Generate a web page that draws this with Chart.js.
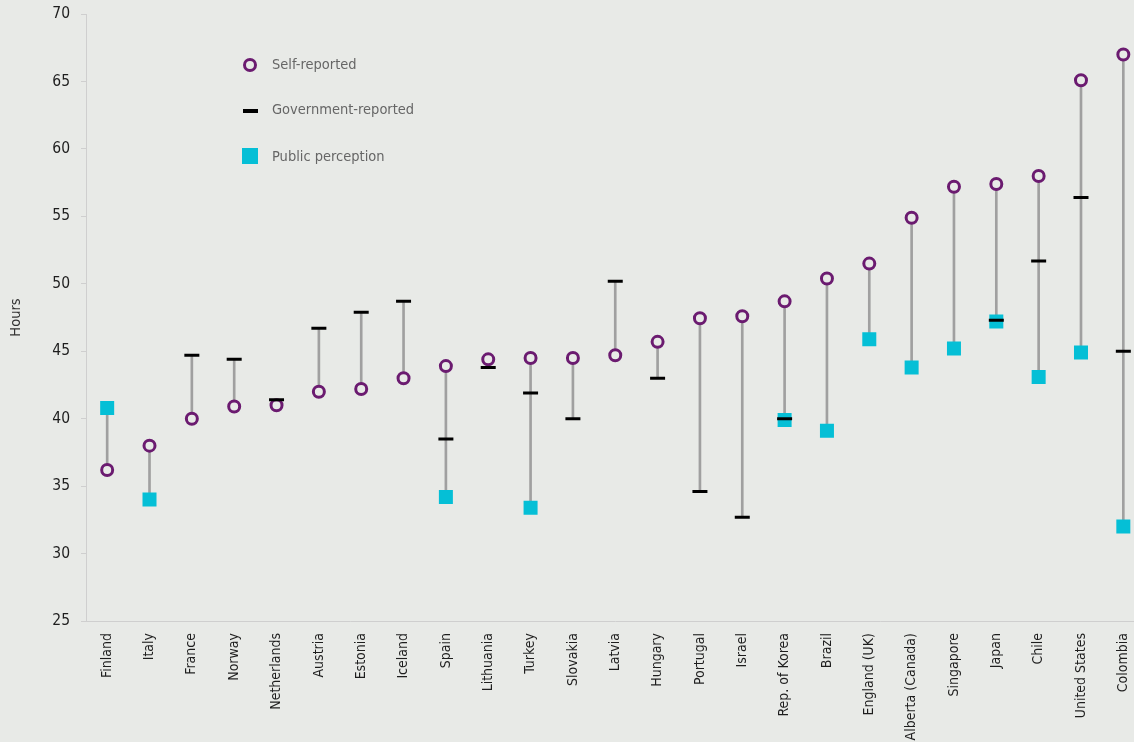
<!DOCTYPE html>
<html>
<head>
<meta charset="utf-8">
<script src="https://cdn.jsdelivr.net/npm/chart.js@4/dist/chart.umd.min.js"></script>
<style>
  html, body { margin: 0; padding: 0; background: #e8eae7; overflow: hidden; }
  #wrap { position: relative; width: 1155px; height: 742px; }
  #legend { position: absolute; left: 0; top: 0; font-family: 'DejaVu Sans Condensed', 'DejaVu Sans', sans-serif; font-size: 14.5px; line-height: 18px; color: #666666; }
  .lg-text { position: absolute; white-space: nowrap; }
  .mk { position: absolute; box-sizing: border-box; }
</style>
</head>
<body>
<div id="wrap">
  <canvas id="c"></canvas>
  <div id="legend">
    <div class="mk" style="left:243px;top:57.5px;width:14px;height:14px;border:3px solid #6b1b70;border-radius:50%;"></div>
    <div class="lg-text" style="left:272px;top:55px;">Self-reported</div>
    <div class="mk" style="left:242.5px;top:108.5px;width:15px;height:4px;background:#000;"></div>
    <div class="lg-text" style="left:272px;top:100px;">Government-reported</div>
    <div class="mk" style="left:241.5px;top:147.5px;width:16.5px;height:16.5px;background:#05bfd6;"></div>
    <div class="lg-text" style="left:272px;top:147px;">Public perception</div>
  </div>
</div>
<script>
const categories = ['Finland','Italy','France','Norway','Netherlands','Austria','Estonia','Iceland','Spain','Lithuania','Turkey','Slovakia','Latvia','Hungary','Portugal','Israel','Rep. of Korea','Brazil','England (UK)','Alberta (Canada)','Singapore','Japan','Chile','United States','Colombia'];
const selfReported = [36.2, 38.0, 40.0, 40.9, 41.0, 42.0, 42.2, 43.0, 43.9, 44.4, 44.5, 44.5, 44.7, 45.7, 47.45, 47.6, 48.7, 50.4, 51.5, 54.9, 57.2, 57.4, 58.0, 65.1, 67.0];
const governmentReported = [null, null, 44.7, 44.4, 41.4, 46.7, 47.9, 48.7, 38.5, 43.8, 41.9, 40.0, 50.2, 43.0, 34.6, 32.7, 40.0, null, null, null, null, 47.3, 51.7, 56.4, 45.0];
const publicPerception = [40.8, 34.0, null, null, null, null, null, null, 34.2, null, 33.4, null, null, null, null, null, 39.9, 39.1, 45.9, 43.8, 45.2, 47.2, 43.1, 44.9, 32.0];
const yTicks = [25, 30, 35, 40, 45, 50, 55, 60, 65, 70];

const ranges = categories.map((_, i) => {
  const v = [selfReported[i], governmentReported[i], publicPerception[i]].filter(x => x !== null);
  return v.length > 1 ? [Math.min(...v), Math.max(...v)] : null;
});

const FONT = "'DejaVu Sans Condensed', 'DejaVu Sans', sans-serif";
const BG = '#e8eae7';

new Chart(document.getElementById('c'), {
  data: {
    labels: categories,
    datasets: [
      { type: 'bar', label: 'range', data: ranges, backgroundColor: '#a0a0a0', borderWidth: 0, barThickness: 2, order: 10 },
      { type: 'line', label: 'Public perception', data: publicPerception, showLine: false, pointStyle: 'rect', pointRadius: 9.9, pointBorderWidth: 0, pointBackgroundColor: '#05bfd6', pointBorderColor: '#05bfd6', order: 3 },
      { type: 'line', label: 'Self-reported', data: selfReported, showLine: false, pointStyle: 'circle', pointRadius: 5.5, pointBorderWidth: 3, pointBackgroundColor: BG, pointBorderColor: '#6b1b70', order: 2 },
      { type: 'line', label: 'Government-reported', data: governmentReported, showLine: false, pointStyle: 'line', pointRadius: 7.5, pointBorderWidth: 3, pointBorderColor: '#000', pointBackgroundColor: '#000', order: 1 }
    ]
  },
  options: {
    responsive: true,
    maintainAspectRatio: false,
    animation: false,
    layout: { padding: { top: 0, right: 0, bottom: 0, left: 0 } },
    plugins: { legend: { display: false }, tooltip: { enabled: false } },
    scales: {
      x: {
        type: 'category',
        offset: true,
        afterFit: (s) => { s.height = 121; },
        grid: { display: false, drawTicks: false },
        border: { display: true, color: '#cfcfcf', width: 1 },
        ticks: { minRotation: 90, maxRotation: 90, autoSkip: false, padding: 12, color: '#1e1e1e', font: { family: FONT, size: 14 } }
      },
      y: {
        min: 25, max: 70,
        afterBuildTicks: (s) => { s.ticks = yTicks.map(v => ({ value: v })); },
        afterFit: (s) => { s.width = 86; },
        grid: { display: true, drawOnChartArea: false, drawTicks: true, tickLength: 5, color: '#cfcfcf' },
        border: { display: true, color: '#cfcfcf', width: 1 },
        ticks: { padding: 11, color: '#1e1e1e', font: { family: FONT, size: 15.5, lineHeight: 0.4 } },
        title: { display: true, text: 'Hours', color: '#333', font: { family: FONT, size: 14.5 }, padding: { top: 7.3, bottom: 10 } }
      }
    }
  }
});
</script>
</body>
</html>
